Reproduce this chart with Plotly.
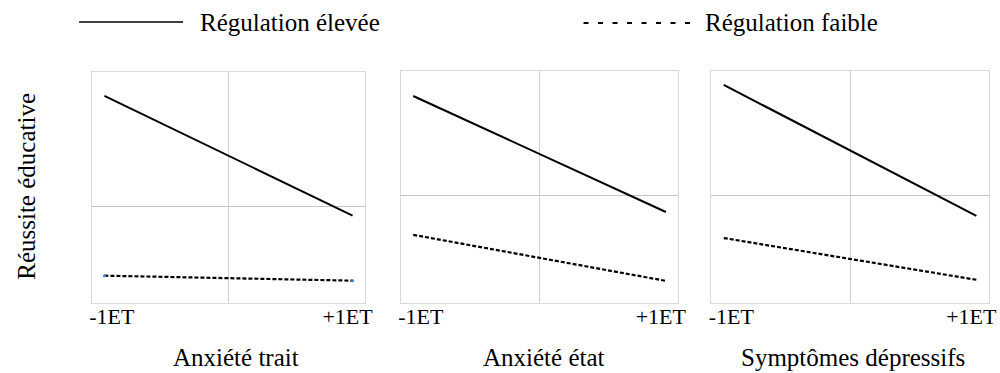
import plotly.graph_objects as go

# ---- data ----
x_levels = [-1, 1]
tick_text = ["-1ET", "+1ET"]
panel_titles = ["Anxiété trait", "Anxiété état", "Symptômes dépressifs"]
series_names = ["Régulation élevée", "Régulation faible"]

high_trait = [2.88, -0.23]
low_trait = [-1.79, -1.92]
high_state = [2.80, -0.45]
low_state = [-1.09, -2.38]
high_dep = [3.11, -0.56]
low_dep = [-1.18, -2.35]

y_title = "Réussite éducative"

W, H = 1000, 373
FONT = "Liberation Serif"

# panel boxes in pixels (left, right, top, bottom)
boxes = [(90, 366, 72, 303), (402, 683, 71, 303), (716, 997, 71, 303)]
yranges = [[-2.5, 3.5], [-3.0, 3.5], [-3.0, 3.5]]
highs = [high_trait, high_state, high_dep]
lows = [low_trait, low_state, low_dep]

fig = go.Figure()
layout = {}
for i, (box, yr, hi, lo) in enumerate(zip(boxes, yranges, highs, lows)):
    n = "" if i == 0 else str(i + 1)
    xa, ya = "x" + n, "y" + n
    l, r, t, b = box
    fig.add_trace(go.Scatter(x=x_levels, y=hi, mode="lines", xaxis=xa, yaxis=ya,
                             line=dict(color="black", width=2), showlegend=False,
                             name=series_names[0]))
    lo_trace = dict(x=x_levels, y=lo, xaxis=xa, yaxis=ya, showlegend=False,
                    name=series_names[1], line=dict(color="black", width=2.2, dash="4px,2px"))
    if i == 0:
        fig.add_trace(go.Scatter(mode="lines+markers",
                                 marker=dict(color="#3d85d8", size=3), **lo_trace))
    else:
        fig.add_trace(go.Scatter(mode="lines", **lo_trace))
    layout["xaxis" + n] = dict(
        domain=[l / W, r / W], anchor=ya, range=[-1.1, 1.1],
        tickvals=[-0.94, 0.96], ticktext=tick_text, showgrid=False,
        zeroline=True, zerolinecolor="#d0d0d0", zerolinewidth=1,
        showline=True, mirror=True, linecolor="#d9d9d9", linewidth=1,
        ticks="", tickfont=dict(family=FONT, size=22, color="black"),
        ticklabelstandoff=-6,
        fixedrange=True,
    )
    layout["yaxis" + n] = dict(
        domain=[1 - b / H, 1 - t / H], anchor=xa, range=yr,
        showticklabels=False, showgrid=False, ticks="",
        zeroline=True, zerolinecolor="#c4c4c4", zerolinewidth=1,
        showline=True, mirror=True, linecolor="#d9d9d9", linewidth=1,
        fixedrange=True,
    )

annotations = []
title_centers = [236, 547, 859]
for txt, cx in zip(panel_titles, title_centers):
    annotations.append(dict(text=txt, x=cx / W, y=1 - 357 / H, xref="paper", yref="paper",
                            xanchor="center", yanchor="middle", showarrow=False,
                            font=dict(family=FONT, size=25, color="black")))
annotations.append(dict(text=y_title, x=23 / W, y=1 - 186 / H, xref="paper", yref="paper",
                        xanchor="center", yanchor="middle", showarrow=False, textangle=-90,
                        font=dict(family=FONT, size=25, color="black")))
# legend (manual)
annotations.append(dict(text=series_names[0], x=197 / W, y=1 - 22 / H, xref="paper", yref="paper",
                        xanchor="left", yanchor="middle", showarrow=False,
                        font=dict(family=FONT, size=25, color="black")))
annotations.append(dict(text=series_names[1], x=708 / W, y=1 - 22 / H, xref="paper", yref="paper",
                        xanchor="left", yanchor="middle", showarrow=False,
                        font=dict(family=FONT, size=25, color="black")))
shapes = [
    dict(type="line", xref="paper", yref="paper", x0=77 / W, x1=182 / W,
         y0=1 - 22 / H, y1=1 - 22 / H, line=dict(color="black", width=1.5)),
    dict(type="line", xref="paper", yref="paper", x0=587 / W, x1=703 / W,
         y0=1 - 23 / H, y1=1 - 23 / H, line=dict(color="black", width=2, dash="5px,9.5px")),
]

fig.update_layout(
    width=W, height=H, margin=dict(l=0, r=0, t=0, b=0),
    paper_bgcolor="white", plot_bgcolor="white",
    annotations=annotations, shapes=shapes, showlegend=False,
    **layout,
)

fig.write_html("out.html", config={"displayModeBar": False},
               post_script="document.body.style.margin='0';document.body.style.overflow='hidden';")
